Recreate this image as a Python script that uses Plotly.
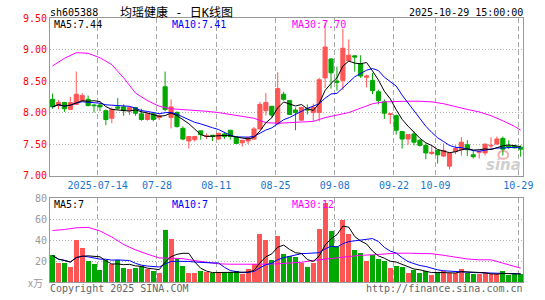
import plotly.graph_objects as go
import pandas as pd

# ---------------- data ----------------
tick_idx = [8, 18, 28, 38, 48, 58, 65, 79]
tick_text = ["2025-07-14", "07-28", "08-11", "08-25", "09-08", "09-22", "10-09", "10-29"]

opens = [8.21, 8.11, 8.16, 8.05, 8.13, 8.19, 8.21, 8.12, 8.12, 8.03,
         7.91, 8.09, 8.09, 8.03, 8.08, 7.98, 7.89, 7.98, 7.92, 8.41,
         7.92, 8.00, 7.75, 7.55, 7.57, 7.71, 7.62, 7.64, 7.58, 7.66,
         7.72, 7.61, 7.52, 7.55, 7.58, 7.74, 8.03, 8.10, 7.82, 8.29,
         8.19, 8.04, 7.88, 8.06, 8.00, 8.00, 8.55, 8.85, 8.50, 8.51,
         8.82, 8.90, 8.77, 8.56, 8.51, 8.33, 8.17, 7.97, 7.95, 7.70,
         7.58, 7.66, 7.56, 7.48, 7.35, 7.40, 7.31, 7.15, 7.38, 7.41,
         7.49, 7.33, 7.37, 7.36, 7.47, 7.50, 7.59, 7.47, 7.47, 7.45]
highs = [8.30, 8.20, 8.17, 8.25, 8.65, 8.31, 8.27, 8.13, 8.15, 8.05,
         8.08, 8.23, 8.13, 8.10, 8.09, 8.06, 8.00, 8.00, 7.97, 8.65,
         8.21, 8.02, 7.78, 7.62, 7.63, 7.71, 7.67, 7.64, 7.68, 7.68,
         7.72, 7.61, 7.56, 7.61, 7.77, 8.17, 8.31, 8.10, 8.64, 8.33,
         8.19, 8.08, 8.09, 8.13, 8.14, 8.55, 9.43, 8.86, 8.73, 9.33,
         9.16, 8.91, 8.91, 8.60, 8.63, 8.36, 8.21, 7.98, 7.97, 7.70,
         7.66, 7.70, 7.58, 7.51, 7.48, 7.40, 7.51, 7.36, 7.48, 7.61,
         7.56, 7.40, 7.40, 7.50, 7.61, 7.62, 7.62, 7.56, 7.49, 7.48]
lows = [8.06, 8.05, 8.01, 8.04, 8.12, 8.18, 8.10, 8.00, 8.02, 7.80,
        7.83, 8.05, 7.95, 7.96, 7.95, 7.87, 7.87, 7.86, 7.88, 8.02,
        7.75, 7.76, 7.56, 7.43, 7.54, 7.57, 7.58, 7.55, 7.57, 7.58,
        7.57, 7.50, 7.46, 7.50, 7.57, 7.74, 7.95, 7.92, 7.82, 8.19,
        7.96, 7.72, 7.87, 7.97, 7.86, 7.86, 8.39, 8.38, 8.35, 8.36,
        8.81, 8.65, 8.55, 8.40, 8.29, 8.13, 7.90, 7.82, 7.65, 7.43,
        7.49, 7.48, 7.46, 7.26, 7.33, 7.19, 7.30, 7.10, 7.34, 7.32,
        7.31, 7.27, 7.27, 7.32, 7.43, 7.49, 7.32, 7.42, 7.43, 7.30]
closes = [8.09, 8.16, 8.06, 8.16, 8.29, 8.27, 8.11, 8.11, 8.09, 7.89,
          8.05, 8.07, 8.03, 8.08, 7.99, 7.89, 7.98, 7.89, 7.95, 8.05,
          8.09, 7.78, 7.58, 7.62, 7.62, 7.65, 7.63, 7.62, 7.67, 7.62,
          7.62, 7.51, 7.56, 7.60, 7.74, 8.13, 8.16, 7.96, 8.38, 8.21,
          7.97, 8.00, 8.08, 8.04, 8.08, 8.52, 9.04, 8.63, 8.48, 9.02,
          8.91, 8.88, 8.58, 8.58, 8.35, 8.19, 7.99, 7.98, 7.72, 7.58,
          7.65, 7.53, 7.48, 7.36, 7.37, 7.33, 7.40, 7.36, 7.43, 7.53,
          7.41, 7.30, 7.38, 7.50, 7.48, 7.58, 7.42, 7.45, 7.44, 7.42]
volumes = [25.3, 18.3, 18.3, 14.4, 40.2, 31.8, 20.2, 17.4, 10.8, 21.1,
           16.5, 20.6, 13.6, 12.6, 13.6, 14.6, 11.7, 10.4, 8.5, 49.6,
           40.8, 23.0, 15.2, 8.5, 8.5, 10.4, 9.5, 7.9, 8.5, 8.5,
           9.5, 10.4, 7.3, 11.7, 16.8, 45.2, 39.5, 21.2, 43.6, 26.9,
           24.3, 23.7, 18.0, 14.2, 18.0, 50.6, 75.3, 48.4, 33.8, 59.1,
           45.2, 30.7, 27.0, 19.5, 25.5, 22.0, 19.5, 12.8, 15.4, 14.2,
           8.8, 10.9, 8.8, 10.0, 6.3, 9.5, 10.4, 8.5, 8.5, 12.6,
           8.5, 7.3, 7.3, 8.5, 7.3, 7.3, 10.4, 6.3, 7.3, 7.3]

# 30-day averages (their earlier history is not shown)
ma30_idx = [0, 2, 4, 6, 8, 10, 12, 14, 16, 18, 20, 22, 24, 26, 28, 30, 32, 34, 36,
            38, 40, 42, 44, 46, 48, 50, 52, 54, 56, 58, 60, 62, 64, 66, 68, 70,
            72, 74, 76, 78, 79]
ma30_price = [8.74, 8.86, 8.95, 8.94, 8.87, 8.76, 8.55, 8.31, 8.19, 8.10, 8.06,
              8.05, 8.04, 8.02, 8.00, 7.97, 7.94, 7.91, 7.84, 7.83, 7.84, 7.85,
              7.86, 7.92, 7.96, 8.00, 8.07, 8.14, 8.17, 8.18, 8.18, 8.18, 8.17,
              8.14, 8.09, 8.05, 8.01, 7.95, 7.87, 7.78, 7.72]
ma30_vol = [49.2, 50.1, 51.8, 52.2, 48.8, 43.0, 35.8, 30.7, 26.6, 23.0, 22.8,
            22.3, 20.4, 18.8, 17.4, 17.0, 16.8, 16.8, 17.0, 17.4, 17.8, 18.8,
            20.6, 22.0, 23.2, 24.5, 25.5, 26.0, 26.8, 27.5, 27.5, 27.5, 27.0,
            25.5, 23.6, 22.0, 21.2, 21.2, 18.0, 14.8, 13.3]

idx = list(range(len(closes)))

# ---------------- styles ----------------
RED = "#FF5555"
GREEN = "#00A800"
MONO = "DejaVu Sans Mono"
L, R, T, B = 50, 529, 18, 286  # plot area in px


def X(px):
    return (px - L) / (R - L)


def Y(py):
    return (B - py) / (B - T)


cs = pd.Series(closes)
vs = pd.Series(volumes)
ma5 = cs.rolling(5, min_periods=1).mean()
ma10 = cs.rolling(10, min_periods=1).mean()
vma5 = vs.rolling(5, min_periods=1).mean()
vma10 = vs.rolling(10, min_periods=1).mean()

fig = go.Figure()
fig.add_trace(go.Candlestick(
    x=idx, open=opens, high=highs, low=lows, close=closes,
    increasing=dict(line=dict(color=RED, width=1), fillcolor=RED),
    decreasing=dict(line=dict(color=GREEN, width=1), fillcolor=GREEN),
    whiskerwidth=0, hoverinfo="skip", showlegend=False, xaxis="x", yaxis="y"))
fig.add_trace(go.Scatter(x=ma30_idx, y=ma30_price, mode="lines",
                         line=dict(color="#FF00FF", width=1),
                         hoverinfo="skip", xaxis="x", yaxis="y"))
for ys, col in [(ma10, "#0000FF"), (ma5, "#000000")]:
    fig.add_trace(go.Scatter(x=idx, y=ys, mode="lines", line=dict(color=col, width=1),
                             hoverinfo="skip", xaxis="x", yaxis="y"))

vcol = [RED if c >= o else GREEN for o, c in zip(opens, closes)]
fig.add_trace(go.Bar(x=idx, y=volumes, marker=dict(color=vcol, line=dict(width=0)), width=0.84,
                     hoverinfo="skip", xaxis="x2", yaxis="y2"))
fig.add_trace(go.Scatter(x=ma30_idx, y=ma30_vol, mode="lines", line=dict(color="#FF00FF", width=1),
                         hoverinfo="skip", xaxis="x2", yaxis="y2"))
for ys, col in [(vma10, "#0000FF"), (vma5, "#000000")]:
    fig.add_trace(go.Scatter(x=idx, y=ys, mode="lines", line=dict(color=col, width=1),
                             hoverinfo="skip", xaxis="x2", yaxis="y2"))

grid_x = [t - 0.383 for t in tick_idx]
xr = [-0.433, 79.4]
main_bottom = Y(178)
vol_top = Y(201)

common_x = dict(range=xr, tickvals=grid_x, showgrid=True, gridcolor="#a8a8a8",
                griddash="5px,3px", gridwidth=1, showline=True, linecolor="#999999",
                linewidth=1, mirror=True, ticks="", zeroline=False, fixedrange=True)

fig.update_layout(
    width=545, height=300,
    margin=dict(l=L, r=545 - R, t=T, b=300 - B),
    paper_bgcolor="white", plot_bgcolor="white",
    showlegend=False, boxgap=0.3, boxgroupgap=0, bargap=0,
    xaxis=dict(domain=[0, 1], anchor="y", ticktext=tick_text,
               tickfont=dict(family=MONO, size=10, color="#1874CD"),
               rangeslider=dict(visible=False), **common_x),
    xaxis2=dict(domain=[0, 1], anchor="y2", matches="x", showticklabels=False, **common_x),
    yaxis=dict(domain=[main_bottom, 1], anchor="x", range=[7.0, 9.5],
               tickvals=[7.0, 7.5, 8.0, 8.5, 9.0, 9.5],
               ticktext=["7.00", "7.50", "8.00", "8.50", "9.00", "9.50"],
               tickfont=dict(family=MONO, size=10, color="#FF0000"),
               showgrid=True, gridcolor="#b0b0b0", griddash="1px,2px",
               showline=True, linecolor="#999999", mirror=True, ticks="",
               zeroline=False, fixedrange=True),
    yaxis2=dict(domain=[0, vol_top], anchor="x2", range=[0, 80],
                tickvals=[20, 40, 60, 80], ticktext=["20", "40", "60", "80"],
                tickfont=dict(family=MONO, size=10, color="#999999"),
                showgrid=True, gridcolor="#b0b0b0", griddash="1px,2px",
                showline=True, linecolor="#999999", mirror=True, ticks="",
                zeroline=False, fixedrange=True),
)


def ann(text, px, py, anchor="left", color="#000000", size=10, family=MONO, **kw):
    fig.add_annotation(text=text, x=X(px), y=Y(py), xref="paper", yref="paper",
                       xanchor=anchor, yanchor="middle", showarrow=False,
                       font=dict(family=family, size=size, color=color), **kw)


ann("sh605388", 48, 12)
ann("均瑶健康 - 日K线图", 178, 12, anchor="center", size=12,
    family="DejaVu Sans Mono, Noto Sans CJK SC")
ann("2025-10-29 15:00:00", 531, 12, anchor="right")
ann("MA5:7.44", 52, 25)
ann("MA10:7.41", 172, 25, color="#0000FF")
ann("MA30:7.70", 293, 25, color="#FF00FF")
ann("MA5:7", 52, 207)
ann("MA10:7", 172, 207, color="#0000FF")
ann("MA30:12", 293, 207, color="#FF00FF")
ann("x万", 45, 286, anchor="right", color="#999999", family="Noto Sans CJK SC")
ann("Copyright 2025 SINA.COM", 48, 293, color="#666666")
ann("http://finance.sina.com.cn", 531, 293, anchor="right", color="#666666")
fig.add_annotation(text="<b><i>sina</i></b>", x=X(529), y=Y(167), xref="paper", yref="paper",
                   xanchor="right", yanchor="middle", showarrow=False,
                   font=dict(family="DejaVu Sans", size=15, color="#cfcfcf"))
# small logo ring above the watermark
fig.add_shape(type="circle", xref="paper", yref="paper",
              x0=X(504), x1=X(514), y0=Y(161), y1=Y(153),
              line=dict(color="#f2b0b0", width=2), fillcolor="rgba(0,0,0,0)", layer="below")

fig.write_html("out.html")
